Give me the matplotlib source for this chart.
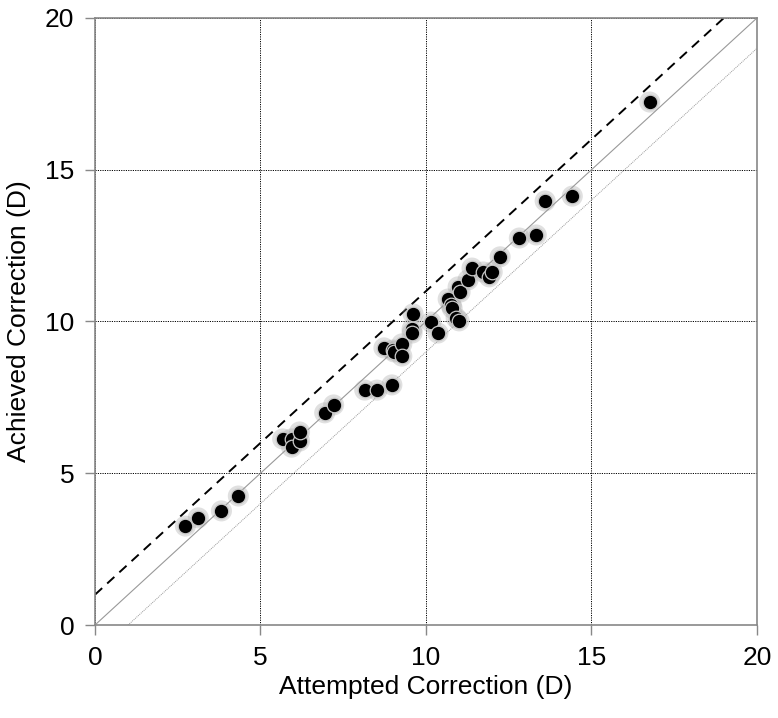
import matplotlib.pyplot as plt
import numpy as np

plt.rcParams['font.family'] = ['Liberation Sans', 'DejaVu Sans']

# attempted vs achieved correction (D)
attempted = [2.73, 3.12, 3.82, 4.33,
             5.67, 5.94, 5.94, 6.18, 6.18, 6.94, 7.21,
             8.15, 8.52, 8.97, 8.73, 9.00, 9.03, 9.27, 9.27,
             9.58, 9.58, 9.61, 10.15, 10.36,
             10.67, 10.76, 10.79, 10.97, 11.03, 10.91, 11.00,
             11.27, 11.39, 11.73, 11.91, 12.00, 12.24,
             12.82, 13.33, 13.60, 14.42, 16.76]
achieved = [3.26, 3.53, 3.76, 4.25,
            6.13, 6.13, 5.86, 6.06, 6.36, 6.99, 7.25,
            7.74, 7.74, 7.91, 9.13, 9.06, 9.00, 9.26, 8.86,
            9.75, 9.62, 10.25, 9.98, 9.62,
            10.74, 10.54, 10.44, 11.14, 10.97, 10.12, 10.02,
            11.37, 11.76, 11.63, 11.47, 11.63, 12.13,
            12.75, 12.85, 13.97, 14.13, 17.23]

ticks = [0, 5, 10, 15, 20]
line_x = np.array([0, 20])

fig = plt.figure(figsize=(7.78, 7.18), dpi=100)
ax = fig.add_axes([0.1221, 0.1295, 0.8509, 0.8455])

# reference lines: +1 D, exact, -1 D
ax.plot(line_x, line_x + 1, color='black', lw=1.4, ls=(0, (5, 3.5)), zorder=2)
ax.plot(line_x, line_x, color='#999999', lw=0.8, zorder=2)
ax.plot(line_x, line_x - 1, color='#999999', lw=0.7, ls=(0, (1, 1)), zorder=2)

# soft shadow under the markers
ax.scatter(attempted, achieved, s=230, color='#999999', alpha=0.3,
           edgecolors='none', zorder=3)
ax.scatter(attempted, achieved, s=110, color='black', edgecolors='#c8c8c8',
           linewidths=0.9, zorder=4)

ax.set_xlim(0, 20)
ax.set_ylim(0, 20)
ax.set_xticks(ticks)
ax.set_yticks(ticks)
ax.grid(True, color='black', lw=0.7, ls=(0, (1.2, 1.2)))
ax.set_axisbelow(True)

for s in ax.spines.values():
    s.set_color('#888888')
    s.set_linewidth(1.2)
ax.tick_params(direction='out', length=7, width=1.0, color='#888888',
               labelsize=19, pad=8)

ax.set_xlabel('Attempted Correction (D)', fontsize=19, labelpad=4)
ax.set_ylabel('Achieved Correction (D)', fontsize=19, labelpad=10)

fig.savefig('out.png', dpi=100)
